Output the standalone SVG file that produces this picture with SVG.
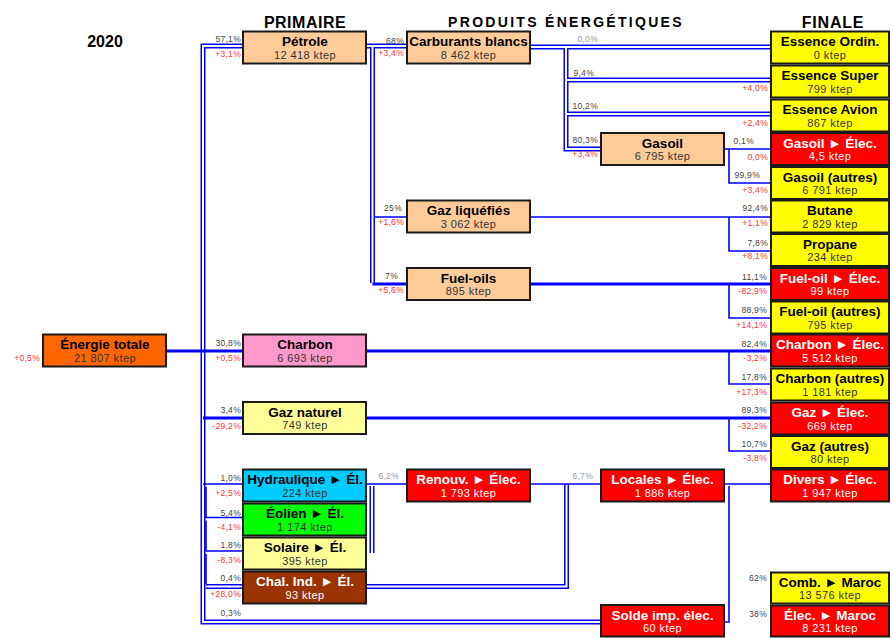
<svg xmlns="http://www.w3.org/2000/svg" width="892" height="638" viewBox="0 0 892 638">
<style>
text{font-family:"Liberation Sans","DejaVu Sans",Arial,sans-serif}
.bx{stroke:#1a1a1a;stroke-width:2}
.t{font-weight:bold;font-size:13.5px;text-anchor:middle;fill:#000}
.s{font-size:11px;letter-spacing:.4px;text-anchor:middle;fill:#333}
.w .t,.w .s{fill:#fff}
.h{font-weight:bold;font-size:16px;text-anchor:middle;fill:#000}
.p{font-size:8.5px;letter-spacing:.3px;fill:#444;text-anchor:end}
.r{fill:#ff3333}
.g{fill:#999}
.dO{fill:none;stroke:#0000ff;stroke-width:5}
.dI{fill:none;stroke:#fff;stroke-width:2}
.sl{fill:none;stroke:#0000ff;stroke-width:1.6}
.tk{fill:none;stroke:#0000ff;stroke-width:3}
</style>

<g id="headers">
<text class="h" x="105" y="46.5">2020</text>
<text class="h" x="305" y="28" style="letter-spacing:.5px">PRIMAIRE</text>
<text class="h" x="566" y="26.5" style="font-size:14px;letter-spacing:2.3px">PRODUITS ÉNERGÉTIQUES</text>
<text class="h" x="833" y="28" style="letter-spacing:.8px">FINALE</text>
</g>

<g id="connectors">
<g class="dO">
<path d="M243,46 H203 V622 H601"/>
<path d="M366,46 H407 M372.5,46 V283"/>
<path d="M531,47 H771 M566,47 V149 H601 M566,80 H771 M566,114 H771"/>
<path d="M206,586.5 H566.5 V484"/>
<path d="M372,486 V553"/>
</g>
<g class="dI">
<path d="M243,46 H203 V622 H601"/>
<path d="M366,46 H407 M372.5,46 V283"/>
<path d="M531,47 H771 M566,47 V149 H601 M566,80 H771 M566,114 H771"/>
<path d="M206,586.5 H566.5 V484"/>
<path d="M372,486 V553"/>
</g>
<g class="sl">
<path d="M725,149 H771 M729,149 V183 H771"/>
<path d="M374,217 H407 M531,217 H771 M729,217 V251 H771"/>
<path d="M729,284 V318 H771"/>
<path d="M729,351 V384 H771"/>
<path d="M729,418 V451 H771"/>
<path d="M203,484 H243 M206,487 V517.5 H243 M206,520.5 V551 H243 M206,554 V584"/>
<path d="M366,484 H407 M531,484 H601 M725,484 H771 M729,486 V622 H724"/>
</g>
<g class="tk">
<path d="M166,351 H243 M203,418 H243"/>
<path d="M367,351 H771 M367,418 H771"/>
<path d="M372.5,284 H407 M531,284 H771"/>
</g>
</g>

<g id="labels">
<text class="p" x="40" y="361"><tspan class="r">+0,5%</tspan></text>
<text class="p" x="241" y="42">57,1%</text><text class="p r" x="241" y="57">+3,1%</text>
<text class="p" x="241" y="346">30,8%</text><text class="p r" x="241" y="361">+0,5%</text>
<text class="p" x="241" y="413">3,4%</text><text class="p r" x="241" y="429">-29,2%</text>
<text class="p" x="241" y="481">1,0%</text><text class="p r" x="241" y="496">+2,5%</text>
<text class="p" x="241" y="515.5">5,4%</text><text class="p r" x="241" y="529.5">-4,1%</text>
<text class="p" x="241" y="548">1,8%</text><text class="p r" x="241" y="563">-8,3%</text>
<text class="p" x="241" y="581">0,4%</text><text class="p r" x="241" y="597">+28,0%</text>
<text class="p" x="241" y="616">0,3%</text>
<text class="p" x="404" y="43.5">68%</text><text class="p r" x="404" y="56">+3,4%</text>
<text class="p" x="402" y="211">25%</text><text class="p r" x="404" y="224.5">+1,6%</text>
<text class="p" x="398" y="278.5">7%</text><text class="p r" x="404" y="293">+5,6%</text>
<text class="p g" x="399" y="479">6,2%</text>
<text class="p g" x="598" y="42">0,0%</text>
<text class="p" x="594" y="75.5">9,4%</text>
<text class="p" x="598" y="108.7">10,2%</text>
<text class="p" x="598" y="143">80,3%</text><text class="p r" x="598" y="156.5">+3,4%</text>
<text class="p g" x="593" y="479">6,7%</text>
<text class="p r" x="768" y="91">+4,0%</text>
<text class="p r" x="768" y="125.5">+2,4%</text>
<text class="p" x="754" y="144">0,1%</text><text class="p r" x="768" y="160">0,0%</text>
<text class="p" x="760" y="178">99,9%</text><text class="p r" x="768" y="193">+3,4%</text>
<text class="p" x="768" y="211">92,4%</text><text class="p r" x="768" y="225.5">+1,1%</text>
<text class="p" x="768" y="246">7,8%</text><text class="p r" x="768" y="259">+8,1%</text>
<text class="p" x="767" y="280">11,1%</text><text class="p r" x="767" y="294">-82,9%</text>
<text class="p" x="767" y="313">88,9%</text><text class="p r" x="767" y="328">+14,1%</text>
<text class="p" x="767" y="347">82,4%</text><text class="p r" x="767" y="361">-3,2%</text>
<text class="p" x="767" y="379.5">17,8%</text><text class="p r" x="767" y="394.5">+17,3%</text>
<text class="p" x="767" y="413">89,3%</text><text class="p r" x="767" y="429">-32,2%</text>
<text class="p" x="767" y="447">10,7%</text><text class="p r" x="767" y="461">-3,8%</text>
<text class="p" x="767" y="581">62%</text>
<text class="p" x="767" y="617">38%</text>
</g>

<g id="energie-totale"><rect class="bx" x="43" y="334.5" width="123" height="32" fill="#ff6600"/><text class="t" x="105" y="349">Énergie totale</text><text class="s" x="105" y="361.5">21 807 ktep</text></g>
<g id="petrole"><rect class="bx" x="243" y="31.5" width="123" height="32" fill="#ffcc99"/><text class="t" x="305" y="46">Pétrole</text><text class="s" x="305" y="58.5">12 418 ktep</text></g>
<g id="charbon"><rect class="bx" x="243" y="334.5" width="123" height="32" fill="#ff99cc"/><text class="t" x="305" y="349">Charbon</text><text class="s" x="305" y="361.5">6 693 ktep</text></g>
<g id="gaz-naturel"><rect class="bx" x="243" y="402" width="123" height="32" fill="#ffff99"/><text class="t" x="305" y="416.5">Gaz naturel</text><text class="s" x="305" y="429">749 ktep</text></g>
<g id="hydraulique"><rect class="bx" x="243" y="469.5" width="123" height="32" fill="#00ccff"/><text class="t" x="305" y="484">Hydraulique ► Él.</text><text class="s" x="305" y="496.5">224 ktep</text></g>
<g id="eolien"><rect class="bx" x="243" y="503.5" width="123" height="32" fill="#00ff00"/><text class="t" x="305" y="518">Éolien ► Él.</text><text class="s" x="305" y="530.5">1 174 ktep</text></g>
<g id="solaire"><rect class="bx" x="243" y="537.5" width="123" height="32" fill="#ffff99"/><text class="t" x="305" y="552">Solaire ► Él.</text><text class="s" x="305" y="564.5">395 ktep</text></g>
<g id="chaleur" class="w"><rect class="bx" x="243" y="571.5" width="123" height="32" fill="#993300"/><text class="t" x="305" y="586">Chal. Ind. ► Él.</text><text class="s" x="305" y="598.5">93 ktep</text></g>

<g id="carburants"><rect class="bx" x="407" y="31.5" width="123" height="32" fill="#ffcc99"/><text class="t" x="468.5" y="46">Carburants blancs</text><text class="s" x="468.5" y="58.5">8 462 ktep</text></g>
<g id="gaz-liquefies"><rect class="bx" x="407" y="200.5" width="123" height="32" fill="#ffcc99"/><text class="t" x="468.5" y="215">Gaz liquéfiés</text><text class="s" x="468.5" y="227.5">3 062 ktep</text></g>
<g id="fuel-oils"><rect class="bx" x="407" y="268" width="123" height="32" fill="#ffcc99"/><text class="t" x="468.5" y="282.5">Fuel-oils</text><text class="s" x="468.5" y="295">895 ktep</text></g>
<g id="renouv" class="w"><rect class="bx" x="407" y="469.5" width="123" height="32" fill="#ff0000"/><text class="t" x="468.5" y="484">Renouv. ► Élec.</text><text class="s" x="468.5" y="496.5">1 793 ktep</text></g>
<g id="gasoil"><rect class="bx" x="601" y="133" width="123" height="32" fill="#ffcc99"/><text class="t" x="662.5" y="147.5">Gasoil</text><text class="s" x="662.5" y="160">6 795 ktep</text></g>
<g id="locales" class="w"><rect class="bx" x="601" y="469.5" width="123" height="32" fill="#ff0000"/><text class="t" x="662.5" y="484">Locales ► Élec.</text><text class="s" x="662.5" y="496.5">1 886 ktep</text></g>
<g id="solde" class="w"><rect class="bx" x="601" y="605" width="123" height="31.5" fill="#ff0000"/><text class="t" x="662.5" y="619.5">Solde imp. élec.</text><text class="s" x="662.5" y="632">60 ktep</text></g>

<g id="essence-ordin"><rect class="bx" x="771" y="31.5" width="118" height="32" fill="#ffff00"/><text class="t" x="830" y="46">Essence Ordin.</text><text class="s" x="830" y="58.5">0 ktep</text></g>
<g id="essence-super"><rect class="bx" x="771" y="65.5" width="118" height="32" fill="#ffff00"/><text class="t" x="830" y="80">Essence Super</text><text class="s" x="830" y="92.5">799 ktep</text></g>
<g id="essence-avion"><rect class="bx" x="771" y="99.5" width="118" height="32" fill="#ffff00"/><text class="t" x="830" y="114">Essence Avion</text><text class="s" x="830" y="126.5">867 ktep</text></g>
<g id="gasoil-elec" class="w"><rect class="bx" x="771" y="133" width="118" height="32" fill="#ff0000"/><text class="t" x="830" y="147.5">Gasoil ► Élec.</text><text class="s" x="830" y="160">4,5 ktep</text></g>
<g id="gasoil-autres"><rect class="bx" x="771" y="167" width="118" height="32" fill="#ffff00"/><text class="t" x="830" y="181.5">Gasoil (autres)</text><text class="s" x="830" y="194">6 791 ktep</text></g>
<g id="butane"><rect class="bx" x="771" y="200.5" width="118" height="32" fill="#ffff00"/><text class="t" x="830" y="215">Butane</text><text class="s" x="830" y="227.5">2 829 ktep</text></g>
<g id="propane"><rect class="bx" x="771" y="234" width="118" height="32" fill="#ffff00"/><text class="t" x="830" y="248.5">Propane</text><text class="s" x="830" y="261">234 ktep</text></g>
<g id="fuel-elec" class="w"><rect class="bx" x="771" y="268" width="118" height="32" fill="#ff0000"/><text class="t" x="830" y="282.5">Fuel-oil ► Élec.</text><text class="s" x="830" y="295">99 ktep</text></g>
<g id="fuel-autres"><rect class="bx" x="771" y="301.5" width="118" height="32" fill="#ffff00"/><text class="t" x="830" y="316">Fuel-oil (autres)</text><text class="s" x="830" y="328.5">795 ktep</text></g>
<g id="charbon-elec" class="w"><rect class="bx" x="771" y="334.5" width="118" height="32" fill="#ff0000"/><text class="t" x="830" y="349">Charbon ► Élec.</text><text class="s" x="830" y="361.5">5 512 ktep</text></g>
<g id="charbon-autres"><rect class="bx" x="771" y="368.5" width="118" height="32" fill="#ffff00"/><text class="t" x="830" y="383">Charbon (autres)</text><text class="s" x="830" y="395.5">1 181 ktep</text></g>
<g id="gaz-elec" class="w"><rect class="bx" x="771" y="402.5" width="118" height="32" fill="#ff0000"/><text class="t" x="830" y="417">Gaz ► Élec.</text><text class="s" x="830" y="429.5">669 ktep</text></g>
<g id="gaz-autres"><rect class="bx" x="771" y="436" width="118" height="32" fill="#ffff00"/><text class="t" x="830" y="450.5">Gaz (autres)</text><text class="s" x="830" y="463">80 ktep</text></g>
<g id="divers-elec" class="w"><rect class="bx" x="771" y="469.5" width="118" height="32" fill="#ff0000"/><text class="t" x="830" y="484">Divers ► Élec.</text><text class="s" x="830" y="496.5">1 947 ktep</text></g>
<g id="comb-maroc"><rect class="bx" x="771" y="572.5" width="118" height="31" fill="#ffff00"/><text class="t" x="830" y="586.5">Comb. ► Maroc</text><text class="s" x="830" y="599">13 576 ktep</text></g>
<g id="elec-maroc" class="w"><rect class="bx" x="771" y="605.5" width="118" height="31" fill="#ff0000"/><text class="t" x="830" y="619.5">Élec. ► Maroc</text><text class="s" x="830" y="632">8 231 ktep</text></g>
</svg>
